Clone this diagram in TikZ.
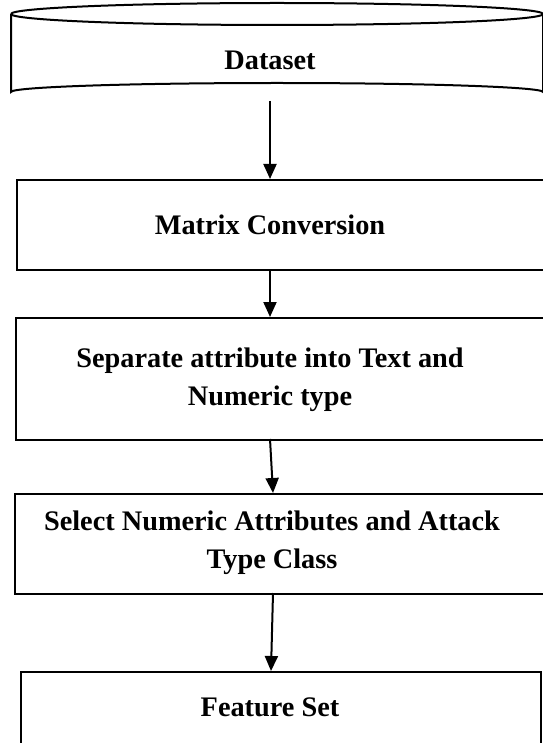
\documentclass[tikz,border=0pt]{standalone}
\usepackage{fontspec}
\setmainfont{Liberation Serif}
\usetikzlibrary{arrows.meta}
\tikzset{
  boxshape/.style={draw, line width=1pt, rectangle, inner sep=0pt, anchor=north west},
  lbl/.style={font=\fontsize{14.15}{19}\selectfont\bfseries, align=center, inner sep=0pt},
  flow/.style={line width=1pt, -{Triangle[width=6.5pt,length=7.5pt]}},
}
\begin{document}
\begin{tikzpicture}[x=0.5pt,y=-0.5pt]
\useasboundingbox (0,0) rectangle (542,743);
% cylinder
\draw[line width=1pt] (11,14) arc[start angle=180, end angle=360, x radius=266, y radius=11]
  arc[start angle=0, end angle=180, x radius=266, y radius=11];
\draw[line width=1pt] (11,14) -- (11,92) arc[start angle=180, end angle=360, x radius=266, y radius=9] -- (543,14);
\coordinate (cylbot) at (270,101);
\node[lbl] (tds) at (270,60) {Dataset};
% boxes
\node[boxshape, minimum width=532*0.5pt, minimum height=90*0.5pt] (b1) at (16,179) {};
\node[lbl] (t1) at (270,225) {Matrix Conversion};
\node[boxshape, minimum width=533*0.5pt, minimum height=122*0.5pt] (b2) at (15,317) {};
\node[lbl] (t2) at (270,380) {Separate attribute into Text and\\Numeric type};
\node[boxshape, minimum width=534*0.5pt, minimum height=100*0.5pt] (b3) at (14,493) {};
\node[lbl] (t3) at (272,543) {Select Numeric Attributes and Attack\\Type Class};
\node[boxshape, minimum width=520*0.5pt, minimum height=100*0.5pt] (b4) at (20,671) {};
\node[lbl] (t4) at (270,707) {Feature Set};
% arrows
\coordinate (a1e) at (270,179);
\coordinate (a2s) at (270,269);
\coordinate (a2e) at (270,317);
\coordinate (a3s) at (270,439);
\coordinate (a3e) at (273,493);
\coordinate (a4s) at (273,593);
\coordinate (a4e) at (271,671);
\draw[flow] (cylbot) -- (a1e);
\draw[flow] (a2s) -- (a2e);
\draw[flow] (a3s) -- (a3e);
\draw[flow] (a4s) -- (a4e);
\end{tikzpicture}
\end{document}
